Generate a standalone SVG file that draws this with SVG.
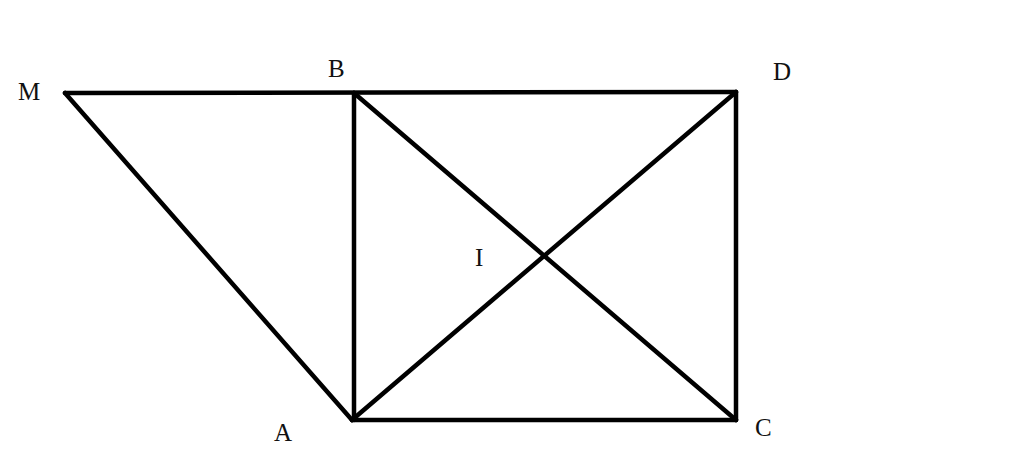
<svg xmlns="http://www.w3.org/2000/svg" width="1024" height="457" viewBox="0 0 1024 457">
<style>
.l{stroke:#000;stroke-width:4.5;stroke-linecap:round;stroke-linejoin:round;fill:none}
.t{font-family:"Liberation Serif",serif;font-size:25px;fill:#111}
</style>
<rect width="1024" height="457" fill="#fff"/>
<g id="connectors">
<line class="l" x1="65" y1="93" x2="736" y2="92"/>
<line class="l" x1="65" y1="93" x2="352" y2="420"/>
<line class="l" x1="354" y1="93" x2="354" y2="420"/>
<line class="l" x1="352" y1="420" x2="736" y2="420"/>
<line class="l" x1="736" y1="92" x2="736" y2="420"/>
<line class="l" x1="354" y1="93" x2="736" y2="420"/>
<line class="l" x1="352" y1="420" x2="736" y2="92"/>
</g>
<g id="M"><text class="t" x="18" y="100">M</text></g>
<g id="B"><text class="t" x="328" y="77">B</text></g>
<g id="D"><text class="t" x="773" y="80">D</text></g>
<g id="I"><text class="t" x="475" y="266">I</text></g>
<g id="A"><text class="t" x="274" y="441">A</text></g>
<g id="C"><text class="t" x="755" y="436">C</text></g>
</svg>
